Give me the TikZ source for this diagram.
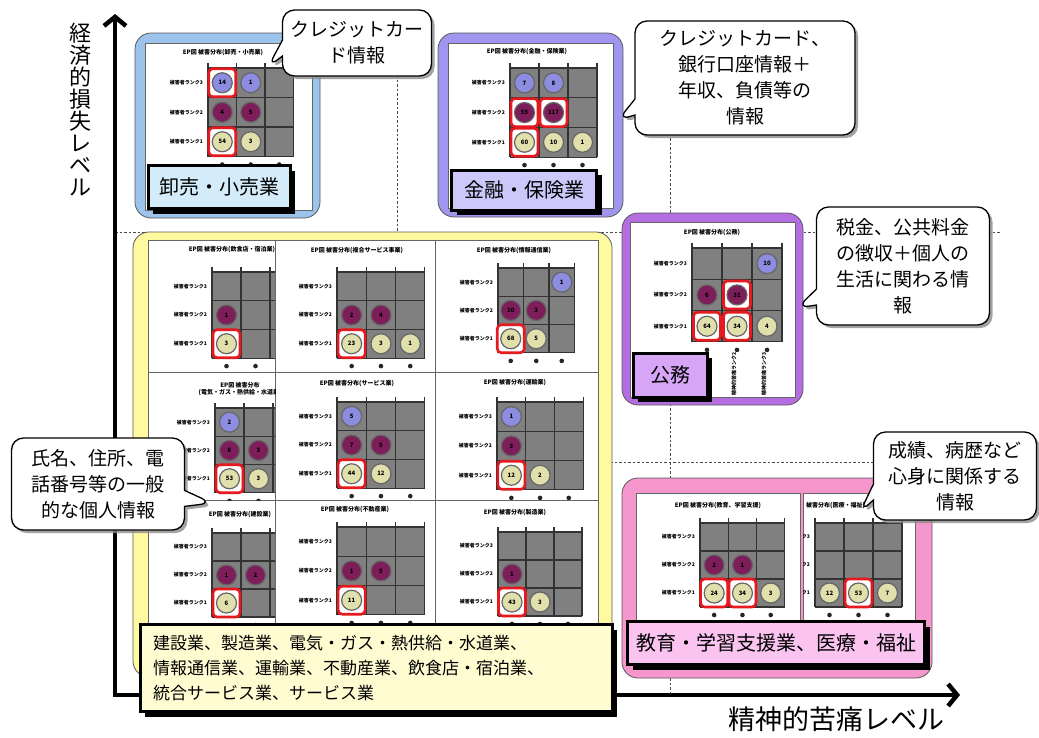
\documentclass[tikz,border=0pt]{standalone}
\usepackage{fontspec}
\setmainfont{Noto Sans CJK JP}
\usetikzlibrary{arrows.meta,shapes.callouts,shadows}

\definecolor{cellgray}{RGB}{128,128,128}
\definecolor{ballblue}{RGB}{140,140,225}
\definecolor{ballpurple}{RGB}{125,30,90}
\definecolor{ballbeige}{RGB}{225,224,172}
\definecolor{markred}{RGB}{230,25,30}
\definecolor{retailblue}{RGB}{155,195,235}
\definecolor{retaillight}{RGB}{212,236,250}
\definecolor{financeblue}{RGB}{160,150,240}
\definecolor{financelight}{RGB}{205,200,250}
\definecolor{publicviolet}{RGB}{180,110,225}
\definecolor{publiclight}{RGB}{215,165,245}
\definecolor{generalyellow}{RGB}{255,250,160}
\definecolor{generallight}{RGB}{255,252,210}
\definecolor{carepink}{RGB}{245,150,205}
\definecolor{carelight}{RGB}{250,195,240}

\tikzset{
  guide/.style={draw=black!70, line width=0.9pt, dash pattern=on 2.5pt off 2pt},
  axisline/.style={line width=4.5pt, {Straight Barb[length=9pt,width=22pt]}-{Straight Barb[length=9pt,width=22pt]}},
  groupbox/.style={rectangle, rounded corners=16pt, draw=black!65, line width=0.8pt, inner sep=0pt},
  panel/.style={fill=white, draw=black!60, line width=0.7pt},
  gridcell/.style={fill=cellgray},
  gridline/.style={draw=black!80, line width=1.1pt},
  tickdot/.style={fill=black!85},
  ball/.style={circle, minimum size=20pt, inner sep=0pt, draw=black!60, line width=1.2pt,
    font=\fontsize{6}{6}\selectfont\bfseries, text=black},
  blueball/.style={fill=ballblue},
  purpleball/.style={fill=ballpurple},
  beigeball/.style={fill=ballbeige},
  hotmark/.style={rectangle, rounded corners=4pt, draw=markred, line width=2.6pt, fill=white,
    minimum width=27pt, minimum height=28pt, inner sep=0pt},
  rowlabel/.style={anchor=east, inner sep=0pt, font=\fontsize{5}{5}\selectfont\bfseries},
  charttitle/.style={inner sep=0pt, align=center, font=\fontsize{6}{7}\selectfont\bfseries},
  tagbox/.style={rectangle, draw=black, line width=3pt, inner sep=0pt,
    drop shadow={shadow xshift=5pt, shadow yshift=-5pt, fill=black, opacity=1},
    font=\fontsize{20}{24}\selectfont},
  bubble/.style={rectangle callout, rounded corners=12pt, draw=black, line width=1.3pt, fill=white,
    callout pointer width=16pt, align=center, inner sep=2pt,
    drop shadow={shadow xshift=3pt, shadow yshift=-3pt, fill=black!45, opacity=0.8},
    font=\fontsize{19}{26}\selectfont}
}

% one small damage chart: name, left, top, cell width, cell height
\newcommand\minichart[5]{%
  \def\mcn{#1}\def\mcx{#2}\def\mcy{#3}\def\mcw{#4}\def\mch{#5}%
  \fill[gridcell] (#2,#3) rectangle ({#2+3*#4},{#3+3*#5});
  \foreach \kk in {0,1,2,3} {
    \draw[gridline] ({#2+\kk*#4},{#3-5}) -- ({#2+\kk*#4},{#3+3*#5});
    \draw[gridline] (#2,{#3+\kk*#5}) -- ({#2+3*#4},{#3+\kk*#5});
  }
  \foreach \kk in {1,2,3}
    \fill[tickdot] ({#2+(\kk-0.5)*#4},{#3+3*#5+8}) circle[radius=2.3];
  \foreach \rr/\kk in {3/0,2/1,1/2}
    \node[rowlabel] (#1-r\rr) at ({#2-5},{#3+(\kk+0.5)*#5}) {被害者ランク\rr};
}
\newcommand\ball[4]{%
  \node[ball,#3] (\mcn-#1-#2) at ({\mcx+(#1-0.5)*\mcw},{\mcy+(3.5-#2)*\mch}) {#4};
}
\newcommand\hotball[4]{%
  \node[hotmark] (\mcn-h#1-#2) at ({\mcx+(#1-0.5)*\mcw},{\mcy+(3.5-#2)*\mch}) {};
  \ball{#1}{#2}{#3}{#4}
}

\begin{document}
\begin{tikzpicture}[x=1pt,y=-1pt]
\useasboundingbox (0,0) rectangle (1039,737);

% quadrant guides
\draw[guide] (397,30) -- (397,697);
\draw[guide] (670,30) -- (670,697);
\draw[guide] (115,232) -- (1000,232);
\draw[guide] (115,462) -- (1000,462);

% axes
\coordinate (ytop) at (115,14);
\coordinate (xend) at (960,695);
\draw[axisline] (ytop) |- (xend);
\node[align=center, font=\fontsize{22}{22}\selectfont] (ylabel) at (80,110)
  {経\\済\\的\\損\\失\\レ\\ベ\\ル};
\node[font=\fontsize{27}{27}\selectfont] (xlabel) at (836,719) {精神的苦痛レベル};

% group boxes
\node[groupbox, fill=retailblue, minimum width=185pt, minimum height=185pt] (retail) at (227.5,125.5) {};
\node[groupbox, fill=financeblue, minimum width=185pt, minimum height=184pt] (finance) at (530.5,125) {};
\node[groupbox, fill=publicviolet, minimum width=181pt, minimum height=192pt] (public) at (712.5,309) {};
\node[groupbox, fill=generalyellow, minimum width=479pt, minimum height=445pt] (general) at (372.5,454.5) {};
\node[groupbox, fill=carepink, minimum width=310pt, minimum height=200pt] (care) at (777,578) {};

\draw[panel] (145,43) rectangle (312,210);
\draw[panel] (448,43) rectangle (613,208);
\draw[panel] (630,222) rectangle (795,397);
\draw[panel] (148,240) rectangle (598,625);
\draw[panel] (275,240) -- (275,625) (435,240) -- (435,625);
\draw[panel] (148,372) -- (598,372) (148,500) -- (598,500);
\draw[panel] (636,493) rectangle (800,620);
\draw[panel] (803,493) rectangle (915,620);

% wholesale / retail
\node[charttitle] (wr-t) at (223,53) {EP図 被害分布(卸売・小売業)};
\minichart{wr}{208}{68}{28.5}{29.5}
\hotball{1}{3}{blueball}{14}
\ball{2}{3}{blueball}{1}
\ball{1}{2}{purpleball}{4}
\ball{2}{2}{purpleball}{5}
\hotball{1}{1}{beigeball}{54}
\ball{2}{1}{beigeball}{3}

% finance / insurance
\node[charttitle] (fi-t) at (527,52) {EP図 被害分布(金融・保険業)};
\minichart{fi}{510}{68}{29}{29.7}
\ball{1}{3}{blueball}{7}
\ball{2}{3}{blueball}{8}
\hotball{1}{2}{purpleball}{55}
\hotball{2}{2}{purpleball}{117}
\hotball{1}{1}{beigeball}{60}
\ball{2}{1}{beigeball}{10}
\ball{3}{1}{beigeball}{1}

% public service
\node[charttitle] (pa-t) at (712,233) {EP図 被害分布(公務)};
\minichart{pa}{692}{248}{30}{31.3}
\ball{3}{3}{blueball}{10}
\ball{1}{2}{purpleball}{6}
\hotball{2}{2}{purpleball}{31}
\hotball{1}{1}{beigeball}{64}
\hotball{2}{1}{beigeball}{34}
\ball{3}{1}{beigeball}{4}
\foreach \kk in {1,2,3}
  \node[rowlabel, rotate=90, anchor=east] (pa-c\kk) at ({692+(\kk-0.5)*30-3},352) {精神的苦痛ランク\kk};

% general industries
\begin{scope}
\clip (148,240) rectangle (275,372);
\node[charttitle] (fd-t) at (232,250) {EP図 被害分布(飲食店・宿泊業)};
\minichart{fd}{212}{272}{29}{28.7}
\ball{1}{2}{purpleball}{1}
\hotball{1}{1}{beigeball}{3}
\end{scope}

\node[charttitle] (cs-t) at (357,250) {EP図 被害分布(複合サービス事業)};
\minichart{cs}{337}{272}{29.3}{28.7}
\ball{1}{2}{purpleball}{2}
\ball{2}{2}{purpleball}{4}
\hotball{1}{1}{beigeball}{23}
\ball{2}{1}{beigeball}{3}
\ball{3}{1}{beigeball}{1}

\node[charttitle] (it-t) at (514,251) {EP図 被害分布(情報通信業)};
\minichart{it}{498}{268}{25.5}{28.3}
\ball{3}{3}{blueball}{1}
\ball{1}{2}{purpleball}{10}
\ball{2}{2}{purpleball}{3}
\hotball{1}{1}{beigeball}{68}
\ball{2}{1}{beigeball}{5}

\begin{scope}
\clip (148,372) rectangle (275,500);
\node[charttitle] (ut-t) at (240,389) {EP図 被害分布\\(電気・ガス・熱供給・水道業)};
\minichart{ut}{215}{408}{29}{28.3}
\ball{1}{3}{blueball}{2}
\ball{1}{2}{purpleball}{6}
\ball{2}{2}{purpleball}{3}
\hotball{1}{1}{beigeball}{53}
\ball{2}{1}{beigeball}{3}
\end{scope}

\node[charttitle] (sv-t) at (357,383) {EP図 被害分布(サービス業)};
\minichart{sv}{337}{402}{29.3}{28.7}
\ball{1}{3}{blueball}{5}
\ball{1}{2}{purpleball}{7}
\ball{2}{2}{purpleball}{5}
\hotball{1}{1}{beigeball}{44}
\ball{2}{1}{beigeball}{12}

\node[charttitle] (tr-t) at (515,383) {EP図 被害分布(運輸業)};
\minichart{tr}{497}{402}{28.7}{29.3}
\ball{1}{3}{blueball}{1}
\ball{1}{2}{purpleball}{3}
\hotball{1}{1}{beigeball}{12}
\ball{2}{1}{beigeball}{2}

\begin{scope}
\clip (148,500) rectangle (275,625);
\node[charttitle] (cn-t) at (240,515) {EP図 被害分布(建設業)};
\minichart{cn}{212}{533}{29}{28}
\ball{1}{2}{purpleball}{1}
\ball{2}{2}{purpleball}{2}
\hotball{1}{1}{beigeball}{6}
\end{scope}

\node[charttitle] (re-t) at (355,510) {EP図 被害分布(不動産業)};
\minichart{re}{337}{527}{29.3}{29.3}
\ball{1}{2}{purpleball}{1}
\ball{2}{2}{purpleball}{5}
\hotball{1}{1}{beigeball}{11}

\node[charttitle] (mf-t) at (515,513) {EP図 被害分布(製造業)};
\minichart{mf}{498}{532}{28}{28}
\ball{1}{2}{purpleball}{1}
\hotball{1}{1}{beigeball}{43}
\ball{2}{1}{beigeball}{3}

% education / medical
\node[charttitle] (ed-t) at (718,506) {EP図 被害分布(教育、学習支援)};
\minichart{ed}{700}{523}{28.3}{28}
\ball{1}{2}{purpleball}{2}
\ball{2}{2}{purpleball}{1}
\hotball{1}{1}{beigeball}{24}
\hotball{2}{1}{beigeball}{34}
\ball{3}{1}{beigeball}{3}

\begin{scope}
\clip (803,493) rectangle (915,620);
\node[charttitle, anchor=west] (md-t) at (806,506) {被害分布(医療・福祉)};
\minichart{md}{815}{523}{29}{28}
\ball{1}{1}{beigeball}{12}
\hotball{2}{1}{beigeball}{53}
\ball{3}{1}{beigeball}{7}
\end{scope}

% group tags
\node[tagbox, fill=retaillight, minimum width=142pt, minimum height=43pt] (retailtag) at (219,187) {卸売・小売業};
\node[tagbox, fill=financelight, minimum width=145pt, minimum height=40pt] (financetag) at (524,190) {金融・保険業};
\node[tagbox, fill=publiclight, minimum width=74pt, minimum height=44pt] (publictag) at (670,375) {公務};
\node[tagbox, fill=generallight, minimum width=472pt, minimum height=87pt, text width=446pt,
  align=left, font=\fontsize{17}{25}\selectfont] (generaltag) at (376,668)
  {建設業、製造業、電気・ガス・熱供給・水道業、\\情報通信業、運輸業、不動産業、飲食店・宿泊業、\\統合サービス業、サービス業};
\node[tagbox, fill=carelight, minimum width=297pt, minimum height=43pt] (caretag) at (776,643) {教育・学習支援業、医療・福祉};

% notes
\node[bubble, minimum width=149pt, minimum height=66pt, callout absolute pointer={(268,67)}] (cardnote) at (357,43)
  {クレジットカー\\ド情報};
\node[bubble, minimum width=220pt, minimum height=114pt, callout absolute pointer={(618,120)}] (banknote) at (745,78)
  {クレジットカード、\\銀行口座情報＋\\年収、負債等の\\情報};
\node[bubble, minimum width=173pt, minimum height=118pt, callout absolute pointer={(797,308)}] (taxnote) at (903,266)
  {税金、公共料金\\の徴収＋個人の\\生活に関わる情\\報};
\node[bubble, minimum width=173pt, minimum height=92pt, callout absolute pointer={(212,503)}] (namenote) at (98,484)
  {氏名、住所、電\\話番号等の一般\\的な個人情報};
\node[bubble, minimum width=163pt, minimum height=88pt, callout absolute pointer={(860,512)}] (healthnote) at (955,476)
  {成績、病歴など\\心身に関係する\\情報};
\end{tikzpicture}
\end{document}
